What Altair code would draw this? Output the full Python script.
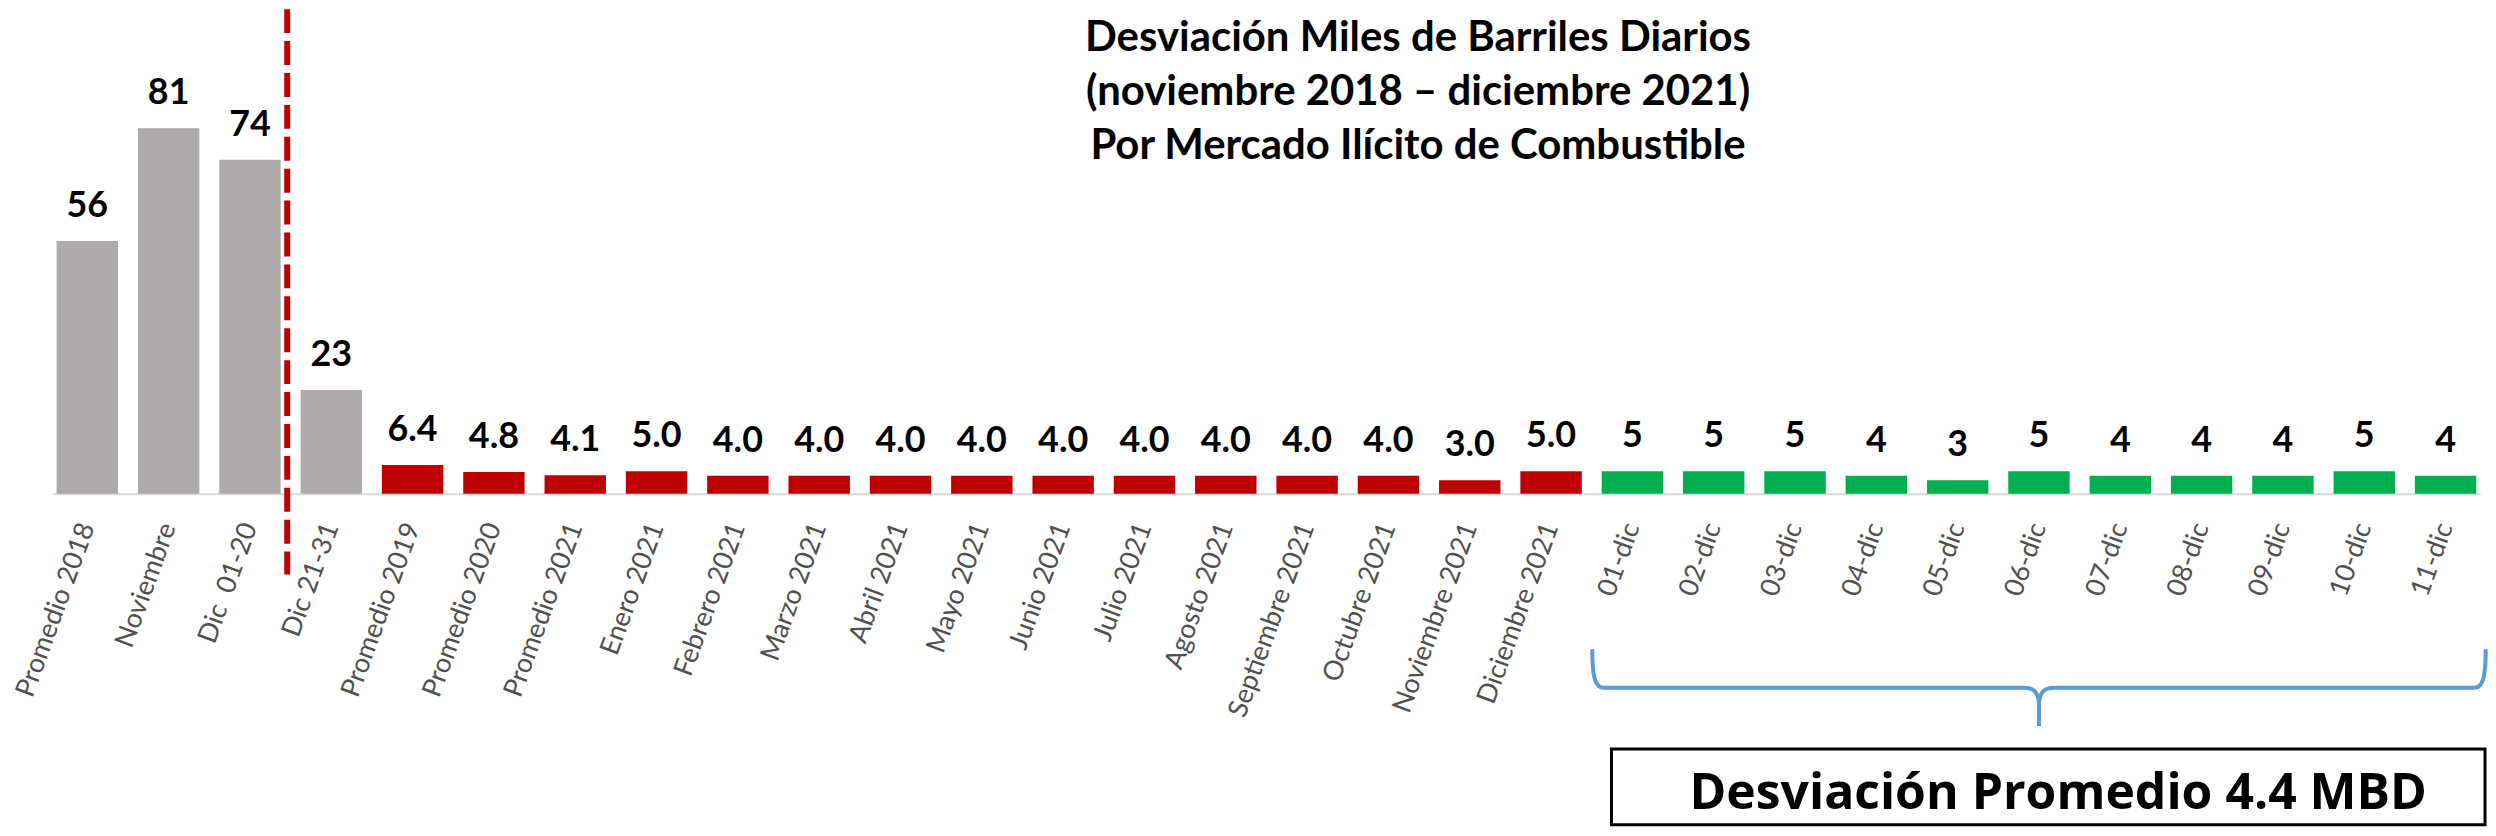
import altair as alt
import pandas as pd

# ---------------- data ----------------
categorias = [
    "Promedio 2018", "Noviembre", "Dic \u00a001-20", "Dic 21-31",
    "Promedio 2019", "Promedio 2020", "Promedio 2021", "Enero 2021",
    "Febrero 2021", "Marzo 2021", "Abril 2021", "Mayo 2021", "Junio 2021",
    "Julio 2021", "Agosto 2021", "Septiembre 2021", "Octubre 2021",
    "Noviembre 2021", "Diciembre 2021",
    "01-dic", "02-dic", "03-dic", "04-dic", "05-dic", "06-dic",
    "07-dic", "08-dic", "09-dic", "10-dic", "11-dic",
]
valores = [
    56, 81, 74, 23,
    6.4, 4.8, 4.1, 5.0, 4.0, 4.0, 4.0, 4.0, 4.0, 4.0, 4.0, 4.0, 4.0, 3.0, 5.0,
    5, 5, 5, 4, 3, 5, 4, 4, 4, 5, 4,
]
grupos = ["gris"] * 4 + ["rojo"] * 15 + ["verde"] * 11
decimales = [0] * 4 + [1] * 15 + [0] * 11

titulo = [
    "Desviación Miles de Barriles Diarios",
    "(noviembre 2018 \u2013 diciembre 2021)",
    "Por Mercado Ilícito de Combustible",
]
nota = "Desviación Promedio 4.4 MBD"
grupo_colores = ["#aeaaaa", "#c00000", "#00b050"]

etiquetas = [f"{v:.{d}f}" for v, d in zip(valores, decimales)]
df = pd.DataFrame({"cat": categorias, "valor": valores,
                   "grupo": grupos, "etiqueta": etiquetas})
one = pd.DataFrame({"k": [0]})

W, H = 2434, 486
PX_PER_UNIT = 4.527

x_enc = alt.X(
    "cat:N",
    sort=None,
    scale=alt.Scale(domain=categorias, paddingInner=0.245, paddingOuter=0.046),
    axis=alt.Axis(
        title=None, ticks=False, labelAngle=-70, labelFont="Lato",
        labelFontSize=27, labelColor="#505050", labelPadding=30,
        labelLimit=500, domainColor="#d9d9d9", domainWidth=2, grid=False,
    ),
)
y_enc = alt.Y(
    "valor:Q",
    scale=alt.Scale(domain=[0, H / PX_PER_UNIT], nice=False, zero=True),
    axis=None,
)

base = alt.Chart(df)

bars = base.mark_bar().encode(
    x=x_enc,
    y=y_enc,
    color=alt.Color("grupo:N",
                    scale=alt.Scale(domain=["gris", "rojo", "verde"],
                                    range=grupo_colores),
                    legend=None),
)

labels = base.mark_text(
    font="Lato", fontWeight="bold", fontSize=36, baseline="alphabetic",
    dy=-24, color="#000000",
).encode(x=x_enc, y=y_enc, text="etiqueta:N")

divisor = alt.Chart(one).mark_rule(
    color="#c00000", strokeWidth=6, strokeDash=[24, 8]
).encode(x=alt.value(235), y=alt.value(0), y2=alt.value(567))

title_txt = alt.Chart(one).mark_text(
    text=titulo, font="Lato", fontWeight="bold", fontSize=42,
    lineHeight=54, align="center", baseline="alphabetic", color="#000000",
).encode(x=alt.value(1369), y=alt.value(42))

BRACE = ("M -1 -0.0859 C -1 -0.03 -0.995 0 -0.975 0 L -0.035 0 "
         "C -0.012 0 -0.003 0.008 0 0.035 L 0 0.0859 "
         "M 0 0.035 C 0.003 0.008 0.012 0 0.035 0 L 0.975 0 "
         "C 0.995 0 1 -0.03 1 -0.0859")
brace_df = pd.DataFrame({"cat": ["06-dic"]})
brace = alt.Chart(brace_df).mark_point(
    shape=BRACE, size=896 * 896, filled=False, stroke="#5b9bd5",
    strokeWidth=4, opacity=1,
).encode(x=x_enc, y=alt.value(680.5))

box = alt.Chart(one).mark_rect(
    fill="white", stroke="#000000", strokeWidth=3
).encode(x=alt.value(1563), x2=alt.value(2439),
         y=alt.value(742), y2=alt.value(818))

box_txt = alt.Chart(one).mark_text(
    text=nota, font="Open Sans", fontWeight="bold", fontSize=50,
    align="center", baseline="alphabetic", color="#000000",
).encode(x=alt.value(2011), y=alt.value(802))

chart = alt.layer(
    bars, labels, divisor, title_txt, brace, box, box_txt
).properties(
    width=W, height=H,
    autosize=alt.AutoSizeParams(type="none"),
    padding={"left": 45, "top": 0, "right": 8, "bottom": 334},
    background="white",
).configure_view(stroke=None)

chart.save("out.html", embed_options={"renderer": "svg", "actions": False})
